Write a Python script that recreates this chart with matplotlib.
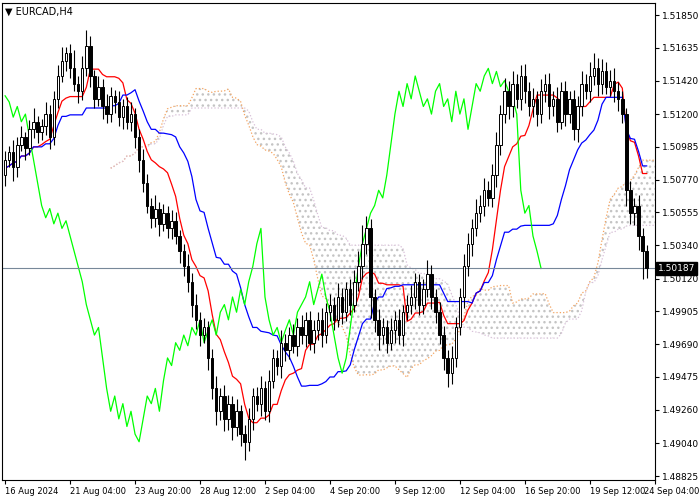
import matplotlib
matplotlib.use('Agg')
import matplotlib.pyplot as plt
from matplotlib.patches import Rectangle
import numpy as np

# H4 closes, EURCAD
closes = [
    1.5090, 1.5095, 1.5085, 1.5100, 1.5105, 1.5098, 1.5110, 1.5115, 1.5108, 1.5112,
    1.5120, 1.5105, 1.5130, 1.5145, 1.5155, 1.5160, 1.5150, 1.5140, 1.5135, 1.5150,
    1.5165, 1.5145, 1.5130, 1.5138, 1.5125, 1.5120, 1.5132, 1.5128, 1.5118, 1.5125,
    1.5115, 1.5120, 1.5105, 1.5090, 1.5075, 1.5060, 1.5052, 1.5058, 1.5048, 1.5055,
    1.5045, 1.5050, 1.5040, 1.5030, 1.5020, 1.5010, 1.4995, 1.4985, 1.4975, 1.4980,
    1.4960, 1.4940, 1.4925, 1.4935, 1.4920, 1.4930, 1.4915, 1.4925, 1.4910, 1.4905,
    1.4920, 1.4935, 1.4930, 1.4940, 1.4925, 1.4945, 1.4960, 1.4955, 1.4970, 1.4965,
    1.4975, 1.4968, 1.4980, 1.4975, 1.4985, 1.4970, 1.4978, 1.4985, 1.4975, 1.4990,
    1.4995, 1.4985, 1.5000, 1.4990, 1.5005, 1.4995, 1.5010, 1.5020, 1.5035, 1.5045,
    1.5000, 1.4985, 1.4975, 1.4980, 1.4970, 1.4978, 1.4985, 1.4975, 1.4990, 1.4995,
    1.5000, 1.5010, 1.4995, 1.5005, 1.5015, 1.5000, 1.4990, 1.4975, 1.4960, 1.4950,
    1.4960, 1.4980, 1.5000, 1.5020, 1.5035, 1.5045, 1.5055, 1.5060, 1.5070, 1.5065,
    1.5080, 1.5100, 1.5120, 1.5135, 1.5125, 1.5140, 1.5130, 1.5145, 1.5135, 1.5125,
    1.5130, 1.5120, 1.5135, 1.5140, 1.5125, 1.5130, 1.5115, 1.5135, 1.5120, 1.5130,
    1.5110, 1.5125, 1.5140, 1.5135, 1.5145, 1.5150, 1.5140, 1.5148, 1.5138, 1.5142,
    1.5135, 1.5130, 1.5120, 1.5070, 1.5055, 1.5060, 1.5040, 1.5030, 1.50187,
]
first_open = 1.5080
# wick extents in pips
upper_pips = [
    6, 4, 8, 5, 7, 3, 6, 9, 4, 5, 8, 6, 5, 7, 9, 4, 6, 12, 5, 8,
    10, 6, 4, 7, 5, 8, 6, 4, 7, 5, 6, 8, 4, 5, 7, 6, 5, 9, 4, 6,
    5, 7, 6, 4, 5, 8, 6, 7, 5, 6, 4, 6, 8, 5, 7, 6, 5, 8, 4, 6,
    7, 5, 6, 8, 5, 7, 6, 5, 8, 6, 5, 7, 6, 8, 5, 6, 7, 5, 8, 6,
    7, 5, 9, 6, 5, 7, 8, 10, 12, 8, 6, 5, 7, 6, 5, 8, 6, 7, 5, 6,
    8, 6, 5, 7, 9, 6, 5, 7, 6, 5, 8, 7, 6, 8, 7, 6, 9, 7, 8, 6,
    7, 8, 6, 9, 7, 8, 6, 7, 8, 6, 7, 5, 8, 6, 7, 5, 8, 6, 7, 5,
    6, 7, 8, 6, 9, 10, 7, 8, 6, 7, 8, 6, 5, 4, 6, 5, 7, 5, 4,
]
lower_pips = [
    7, 5, 9, 6, 4, 8, 5, 6, 7, 5, 6, 8, 5, 6, 4, 7, 6, 5, 8, 6,
    5, 7, 6, 5, 8, 6, 5, 7, 6, 8, 5, 6, 7, 8, 6, 5, 7, 6, 8, 5,
    6, 7, 5, 8, 6, 7, 8, 6, 7, 5, 8, 7, 9, 6, 8, 7, 9, 6, 8, 12,
    6, 7, 5, 8, 6, 7, 5, 6, 8, 7, 6, 5, 7, 6, 8, 5, 7, 6, 8, 5,
    6, 7, 5, 8, 6, 7, 5, 6, 8, 7, 14, 8, 10, 6, 7, 5, 8, 6, 7, 5,
    6, 8, 7, 6, 5, 8, 7, 6, 8, 9, 7, 6, 5, 7, 6, 8, 5, 6, 7, 5,
    6, 8, 7, 6, 8, 7, 6, 7, 8, 6, 7, 8, 6, 7, 8, 6, 7, 5, 8, 6,
    7, 8, 6, 5, 7, 6, 8, 7, 5, 6, 7, 8, 6, 10, 7, 8, 9, 18, 6,
]
date_labels = ['16 Aug 2024', '21 Aug 04:00', '23 Aug 20:00', '28 Aug 12:00',
               '2 Sep 04:00', '4 Sep 20:00', '9 Sep 12:00', '12 Sep 04:00',
               '16 Sep 20:00', '19 Sep 12:00', '24 Sep 04:00']
price_ticks = [1.51850, 1.51635, 1.51420, 1.51200, 1.50985, 1.50770, 1.50555,
               1.50340, 1.50120, 1.49905, 1.49690, 1.49475, 1.49260, 1.49040, 1.48825]

c = np.array(closes)
n = len(c)
o = np.concatenate([[first_open], c[:-1]])
hi = np.maximum(o, c) + np.array(upper_pips) * 1e-4
lo = np.minimum(o, c) - np.array(lower_pips) * 1e-4


def mid(period):
    out = np.full(n, np.nan)
    for i in range(n):
        a = max(0, i - period + 1)
        out[i] = (hi[a:i + 1].max() + lo[a:i + 1].min()) / 2
    return out


tenkan = mid(9)
kijun = mid(26)
span_a = (tenkan + kijun) / 2
span_b = mid(52)
x = np.arange(n)

fig = plt.figure(figsize=(7, 5), dpi=100)
ax = fig.add_axes([0.003, 0.04, 0.933, 0.954])

# cloud, shifted 26 bars forward
xs = x + 26
ax.fill_between(xs, span_a, span_b, facecolor='none', edgecolor='#c4c4c4',
                hatch='...', linewidth=0)
ax.plot(xs, span_a, color='#f4a460', ls=':', lw=0.9)
ax.plot(xs, span_b, color='#d8bfd8', ls=':', lw=0.9)
ax.plot(x, tenkan, color='red', lw=0.9)
ax.plot(x, kijun, color='blue', lw=0.9)
ax.plot(x[:-26], c[26:], color='lime', lw=0.9)

for i in range(n):
    ax.vlines(i, lo[i], hi[i], color='black', lw=0.8, zorder=3)
    bull = c[i] >= o[i]
    ax.add_patch(Rectangle((i - 0.3, min(o[i], c[i])), 0.6, max(abs(c[i] - o[i]), 1e-5),
                           facecolor='white' if bull else 'black', edgecolor='black',
                           lw=0.7, zorder=4))

ax.axhline(closes[-1], color='#778899', lw=0.8, zorder=2)

ax.set_xlim(-0.74, 160.1)
ax.set_ylim(1.48799, 1.51929)
ax.set_xticks(np.arange(len(date_labels)) * 16)
ax.set_xticklabels(date_labels[:-1] + [''], fontsize=6, ha='left')
fig.text(0.999, 0.018, date_labels[-1], fontsize=6, ha='right', va='center')
ax.yaxis.tick_right()
ax.set_yticks(price_ticks)
ax.set_yticklabels([f'{p:.5f}' for p in price_ticks], fontsize=6.5)
ax.tick_params(length=3, pad=2)
for s in ax.spines.values():
    s.set_linewidth(0.8)
ax.text(1.004, closes[-1], f'{closes[-1]:.5f}', transform=ax.get_yaxis_transform(),
        fontsize=6.5, color='white', va='center', ha='left',
        bbox=dict(boxstyle='square,pad=0.2', fc='black', ec='black'), zorder=10)
ax.text(0.005, 0.993, '\u25bc EURCAD,H4', transform=ax.transAxes, fontsize=7,
        va='top', ha='left')

fig.savefig('out.png', dpi=100)
